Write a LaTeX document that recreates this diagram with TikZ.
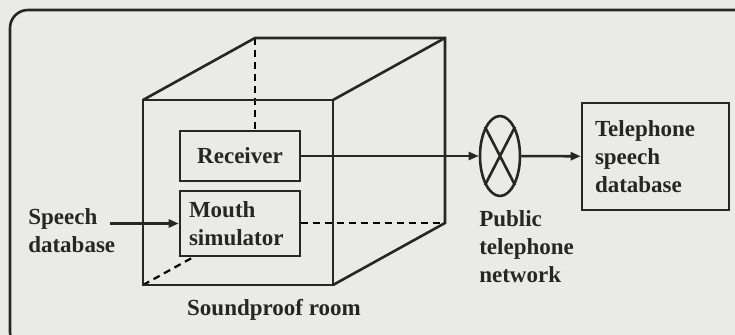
\documentclass[tikz,border=0pt]{standalone}
\usepackage{fontspec}
\setmainfont{Liberation Serif}
\usetikzlibrary{arrows.meta, positioning, shapes.geometric, calc, backgrounds}
\definecolor{cpaper}{HTML}{EAEAE8}
\definecolor{cink}{HTML}{262626}
\tikzset{
  every picture/.style={font=\fontsize{11.5}{14}\selectfont\bfseries, line width=1.3pt, color=cink},
  box/.style={draw, fill=cpaper, minimum width=60pt, inner sep=4pt},
  arrow/.style={-{Triangle[length=5pt, width=4pt]}},
  hidden/.style={line width=1.1pt, dash pattern=on 3.5pt off 2.5pt},
  caption/.style={align=left, inner sep=0pt},
}

\begin{document}
\begin{tikzpicture}[x=0.5pt, y=-0.5pt]
  \useasboundingbox (0,0) rectangle (735,335);
  \begin{scope}[on background layer]
    \fill[cpaper] (0,0) rectangle (735,335);
  \end{scope}
  \clip (0,0) rectangle (735,335);
  \draw[rounded corners=9pt] (10,10) rectangle (760,350);
  % soundproof room (cube)
  \coordinate (fTL) at (143,100);
  \coordinate (fTR) at (333,100);
  \coordinate (fBR) at (333,285);
  \coordinate (fBL) at (143,285);
  \coordinate (bTL) at (255,38);
  \coordinate (bTR) at (445,38);
  \coordinate (bBR) at (445,223);
  \coordinate (bBL) at (255,223);
  \draw (fTL) rectangle (fBR);
  \draw[line join=miter] (fTL) -- (bTL) -- (bTR) -- (bBR) -- (fBR);
  \draw (bTR) -- (fTR);
  \node[box, minimum height=25pt] (recv) at (240,156) {Receiver};
  \node[box, align=left, inner xsep=4.5pt, text width=51pt, minimum height=32.5pt] (mouth) at (240,223.5) {Mouth\\simulator};
  \begin{scope}[on background layer]
    \draw[hidden] (bTL) -- (bTL |- recv.north);
    \draw[hidden] (fBL) -- (bBL);
    \draw[hidden] (bBR -| mouth.east) -- (bBR);
  \end{scope}
  \node[caption] (room) at (274,310) {Soundproof room};
  \node[caption, anchor=west] (spd) at (27,231) {Speech\\database};
  \node[ellipse, draw, minimum width=20pt, minimum height=40pt, inner sep=0pt] (net) at (500,156) {};
  \draw (net.north west) -- (net.south east);
  \draw (net.north east) -- (net.south west);
  \node[caption, anchor=north west] (pstn) at (478,209) {Public\\telephone\\network};
  \node[box, align=left, inner xsep=6.5pt, text width=60.5pt, minimum height=53.5pt] (tdb) at (655.5,156.5) {Telephone\\speech\\database};
  \draw[arrow, shorten <=-3.5pt] (spd.east |- mouth.west) -- (mouth.west);
  \draw[arrow] (recv) -- (net);
  \draw[arrow] (net) -- (tdb);
\end{tikzpicture}
\end{document}
